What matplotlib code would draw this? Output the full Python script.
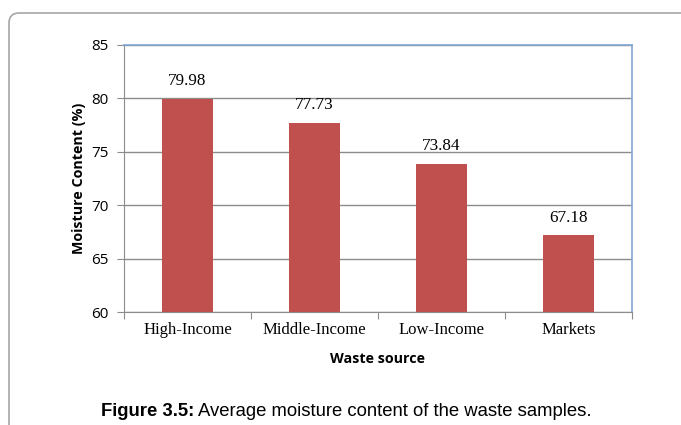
import matplotlib.pyplot as plt
from matplotlib.patches import FancyBboxPatch

categories = ["High-Income", "Middle-Income", "Low-Income", "Markets"]
moisture = [79.98, 77.73, 73.84, 67.18]
y_ticks = [60, 65, 70, 75, 80, 85]

bar_color = "#C0504D"
frame_blue = "#7FA6D6"
grid_gray = "#8C8C8C"

fig = plt.figure(figsize=(6.81, 4.25), dpi=100)

# outer rounded frame (only top-left part visible in the crop)
frame = FancyBboxPatch((9, -60), 760, 472, boxstyle="round,pad=0,rounding_size=10",
                       transform=None, fill=False, edgecolor="#A6A6A6", linewidth=1.2)
fig.add_artist(frame)

ax = fig.add_axes([124 / 681, 1 - 312 / 425, 508 / 681, 267 / 425])
x = range(len(categories))
bars = ax.bar(x, moisture, width=0.4, color=bar_color, zorder=3)

ax.set_ylim(60, 85)
ax.set_xlim(-0.5, len(categories) - 0.5)
ax.set_yticks(y_ticks)
ax.set_yticklabels([str(t) for t in y_ticks], family="Open Sans", fontsize=11)
ax.yaxis.grid(True, color=grid_gray, linewidth=1.0, zorder=0)
ax.set_axisbelow(True)

# category labels in between boundary ticks
ax.set_xticks([i - 0.5 for i in range(len(categories) + 1)])
ax.set_xticklabels([])
ax.set_xticks(list(x), minor=True)
ax.set_xticklabels(categories, minor=True, family="Liberation Serif", fontsize=12)
ax.tick_params(axis="x", which="minor", length=0, pad=7)
ax.tick_params(axis="x", which="major", length=5, color=grid_gray)
ax.tick_params(axis="y", length=5, color=grid_gray, pad=6)

for side in ["left", "bottom"]:
    ax.spines[side].set_color(grid_gray)
for side in ["top", "right"]:
    ax.spines[side].set_color(frame_blue)
    ax.spines[side].set_linewidth(1.2)

for rect, val in zip(bars, moisture):
    ax.annotate(f"{val:.2f}", (rect.get_x() + rect.get_width() / 2, val),
                xytext=(0, 7), textcoords="offset points", ha="center", va="bottom",
                family="Liberation Serif", fontsize=12.3)

ax.set_ylabel("Moisture Content (%)", family="Open Sans", fontweight="bold",
              fontsize=10.3, labelpad=4)
ax.set_xlabel("Waste source", family="Open Sans", fontweight="bold",
              fontsize=10.3, labelpad=10)

cap_y = 1 - 411 / 425
fig.text(194 / 681, cap_y, "Figure 3.5:", family="Liberation Sans",
         fontweight="bold", fontsize=13.3, ha="right", va="center")
fig.text(198 / 681, cap_y, "Average moisture content of the waste samples.",
         family="Liberation Sans", fontsize=13.3, ha="left", va="center")

fig.savefig("out.png", dpi=100)
